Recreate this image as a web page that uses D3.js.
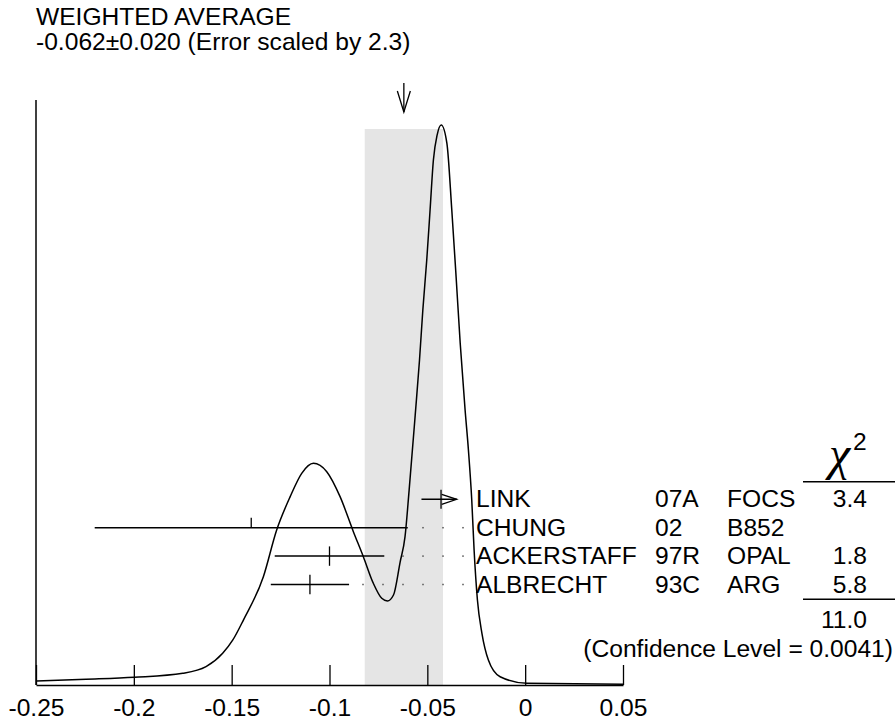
<!DOCTYPE html>
<html><head><meta charset="utf-8">
<script src="https://cdn.jsdelivr.net/npm/d3@7"></script>
<style>
body{margin:0;background:#fff;}
svg text{font-family:"Liberation Sans",Arial,Helvetica,sans-serif;fill:#000;}
</style></head>
<body><svg id="c" width="895" height="726"></svg>
<script>
// ---- data ----
const tickValues = [-0.25, -0.2, -0.15, -0.1, -0.05, 0, 0.05];
const tickLabels = ["-0.25", "-0.2", "-0.15", "-0.1", "-0.05", "0", "0.05"];
const avgValue = -0.062;
const avgError = 0.020;
const titleLines = ["WEIGHTED AVERAGE", "-0.062\u00b10.020 (Error scaled by 2.3)"];
const names = ["LINK", "CHUNG", "ACKERSTAFF", "ALBRECHT"];
const refs = ["07A", "02", "97R", "93C"];
const exps = ["FOCS", "B852", "OPAL", "ARG"];
const chi2 = ["3.4", "", "1.8", "5.8"];
const values = [-0.043, -0.14, -0.10, -0.11];
const errLo = [0.010, 0.08, 0.028, 0.020];
const errHi = [0.008, 0.08, 0.028, 0.020];
const chi2Total = "11.0";
const confText = "(Confidence Level = 0.0041)";
// ideogram curve (x value, relative height)
const curveX = [-0.25,-0.2244,-0.1997,-0.175,-0.1631,-0.1546,-0.1494,-0.144,-0.1338,-0.127,-0.1201,-0.1142,-0.1082,-0.1014,-0.0946,-0.0878,-0.0827,-0.0776,-0.0733,-0.0704,-0.0673,-0.0639,-0.0614,-0.0593,-0.0562,-0.054,-0.0523,-0.0503,-0.0486,-0.0469,-0.045,-0.0429,-0.04,-0.0375,-0.0353,-0.0332,-0.0307,-0.029,-0.0273,-0.0261,-0.0244,-0.0221,-0.0188,-0.0128,0.0009,0.05];
const curveY = [0.0071,0.0102,0.0138,0.0209,0.0327,0.0566,0.0804,0.116,0.1934,0.2768,0.3363,0.378,0.3959,0.3809,0.3363,0.2738,0.2291,0.1816,0.1548,0.15,0.1607,0.2196,0.2648,0.348,0.482,0.5804,0.6696,0.7589,0.8482,0.9375,0.982,1.0,0.9673,0.8482,0.7291,0.6102,0.491,0.4196,0.3304,0.2411,0.1518,0.0923,0.0446,0.0148,0.003,0.0014];

// ---- layout ----
const svg = d3.select("#c");
const x = d3.scaleLinear().domain([-0.25, 0.05]).range([36, 623]);
const y = d3.scaleLinear().domain([0, 1.05]).range([685, 97]);
const FS = 24.6;

// shaded band
svg.append("rect")
  .attr("x", x(avgValue - avgError)).attr("y", 129)
  .attr("width", x(avgValue + avgError) - x(avgValue - avgError))
  .attr("height", y(0) - 129)
  .attr("fill", "#e5e5e5");

// title
svg.selectAll("text.title").data(titleLines).join("text")
  .attr("class","title")
  .attr("x", 36).attr("y", (d,i) => 25 + i*25)
  .style("font-size", FS + "px").text(d => d);

// arrow above average
const ax = x(avgValue);
svg.append("line").attr("x1", ax).attr("x2", ax).attr("y1", 83).attr("y2", 112)
  .attr("stroke","#000").attr("stroke-width",1.3);
svg.append("path").attr("d", `M${ax-6.5},${91}L${ax},${112}L${ax+6.5},${91}`)
  .attr("fill","none").attr("stroke","#000").attr("stroke-width",1.3);

// y axis line
svg.append("line").attr("x1", x(-0.25)).attr("x2", x(-0.25)).attr("y1", 100).attr("y2", y(0))
  .attr("stroke","#000").attr("stroke-width",1.5);

// x axis
const xAxis = d3.axisBottom(x).tickValues(tickValues)
  .tickFormat((d,i) => tickLabels[i]).tickSizeInner(-20).tickSizeOuter(0).tickPadding(14);
const gx = svg.append("g").attr("transform", `translate(0,${y(0)})`).call(xAxis);
gx.select(".domain").attr("stroke","#000").attr("stroke-width",1.5);
gx.selectAll(".tick line").attr("stroke","#000").attr("stroke-width",1.3);
gx.selectAll(".tick text").style("font-size", FS+"px").attr("fill","#000")
  .attr("font-family", '"Liberation Sans",Arial,sans-serif');

// ideogram curve
const pts = curveX.map((v,i) => [v, curveY[i]]);
svg.append("path").datum(pts)
  .attr("d", d3.line().x(d => x(d[0])).y(d => y(d[1])).curve(d3.curveMonotoneX))
  .attr("fill","none").attr("stroke","#000").attr("stroke-width",1.5);

// measurements
const rowY = i => 499.3 + i*28.4;
const dotEnd = 463;
names.forEach((n,i) => {
  const yy = rowY(i);
  const lo = values[i] - errLo[i], hi = values[i] + errHi[i];
  const g = svg.append("g");
  g.append("line").attr("x1", x(lo)).attr("x2", x(hi)).attr("y1", yy).attr("y2", yy)
    .attr("stroke","#000").attr("stroke-width",1.5);
  if (i === 0) {
    g.append("path").attr("d", `M${x(hi)-15},${yy-5}L${x(hi)},${yy}L${x(hi)-15},${yy+5}`)
      .attr("fill","none").attr("stroke","#000").attr("stroke-width",1.3);
    g.append("line").attr("x1", x(values[i])).attr("x2", x(values[i])).attr("y1", yy-9.5).attr("y2", yy+9.5)
      .attr("stroke","#000").attr("stroke-width",1.3);
  } else if (i === 1) {
    g.append("line").attr("x1", x(values[i])).attr("x2", x(values[i])).attr("y1", yy-10).attr("y2", yy)
      .attr("stroke","#000").attr("stroke-width",1.3);
  } else {
    g.append("line").attr("x1", x(values[i])).attr("x2", x(values[i])).attr("y1", yy-9.7).attr("y2", yy+9.7)
      .attr("stroke","#000").attr("stroke-width",1.3);
  }
  if (i > 0) {
    const end = x(hi);
    for (let dx = dotEnd; dx > end + 8; dx -= 20) {
      g.append("rect").attr("x", dx-0.75).attr("y", yy-0.75).attr("width",1.5).attr("height",1.5).attr("fill","#555");
    }
  }
  g.append("text").attr("x", 476).attr("y", yy+8).style("font-size",FS+"px").text(n);
  g.append("text").attr("x", 655).attr("y", yy+8).style("font-size",FS+"px").text(refs[i]);
  g.append("text").attr("x", 727).attr("y", yy+8).style("font-size",FS+"px").text(exps[i]);
  g.append("text").attr("x", 867).attr("y", yy+8).attr("text-anchor","end").style("font-size",FS+"px").text(chi2[i]);
});

// chi2 header
svg.append("text").attr("x", 829).attr("y", 470).style("font-size","48px")
  .style("font-family",'"Liberation Serif","DejaVu Serif",serif').style("font-style","italic").text("\u03c7");
svg.append("text").attr("x", 853).attr("y", 450).style("font-size",FS+"px").text("2");
svg.append("line").attr("x1", 803).attr("x2", 895).attr("y1", 481.7).attr("y2", 481.7).attr("stroke","#000").attr("stroke-width",1.5);
svg.append("line").attr("x1", 803).attr("x2", 895).attr("y1", 599.3).attr("y2", 599.3).attr("stroke","#000").attr("stroke-width",1.5);
svg.append("text").attr("x", 867).attr("y", 628).attr("text-anchor","end").style("font-size",FS+"px").text(chi2Total);
svg.append("text").attr("x", 893).attr("y", 657).attr("text-anchor","end").style("font-size",FS+"px").text(confText);
</script></body></html>
